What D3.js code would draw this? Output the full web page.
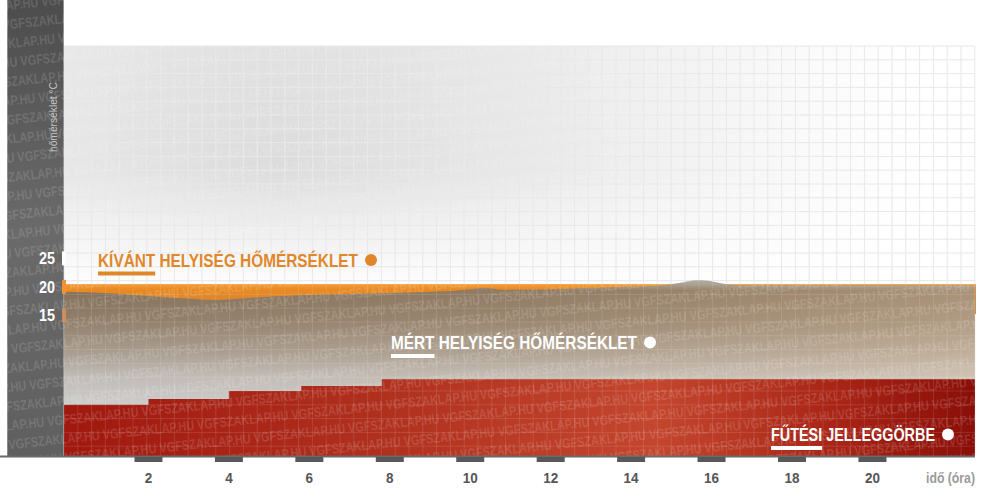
<!DOCTYPE html>
<html>
<head>
<meta charset="utf-8">
<script src="https://cdn.jsdelivr.net/npm/d3@7"></script>
<style>
body { margin: 0; background: #fff; }
svg { display: block; font-family: "Liberation Sans Narrow", "Arial Narrow", "Liberation Sans", sans-serif; }
</style>
</head>
<body>
<svg width="1000" height="500"></svg>
<script>
// values
var xTicks = [2, 4, 6, 8, 10, 12, 14, 16, 18, 20];
var yTicks = [15, 20, 25];
var desiredTemp = 20;
var measHours = [-0.1, 1, 2, 3, 3.6, 4.6, 5.6, 7, 8.5, 9.6, 10.4, 10.8, 12, 13.5, 14.8, 15.2, 15.7, 16.2, 16.6, 18, 20, 22.55];
var measTemps = [19.1, 18.9, 18.4, 17.9, 17.7, 18.1, 18.5, 18.75, 19.0, 19.3, 19.8, 19.5, 19.6, 19.95, 20.3, 20.7, 21.2, 20.7, 20.3, 20.3, 20.3, 20.3];
var stepHours = [-0.1, 2, 4, 5.8, 7.8];
var stepLevels = [-0.7, 0.3, 1.7, 2.6, 3.8];
var endHour = 22.55;
var seriesLabels = ["KÍVÁNT HELYISÉG HŐMÉRSÉKLET", "MÉRT HELYISÉG HŐMÉRSÉKLET", "FŰTÉSI JELLEGGÖRBE"];
var yTitle = "hőmérséklet °C";
var xTitle = "idő (óra)";
var watermark = "VGFSZAKLAP.HU";

var svg = d3.select("svg");

var pLeft = 64, pRight = 975, pTop = 46, pBottom = 456;

var x = d3.scaleLinear().domain([-0.1, endHour]).range([pLeft, pRight]);
var y = d3.scaleLinear().domain([-9.7, 62.3]).range([pBottom, pTop]);

var defs = svg.append("defs");

function linGrad(id, x1, y1, x2, y2, stops) {
  var g = defs.append("linearGradient").attr("id", id)
    .attr("gradientUnits", "userSpaceOnUse")
    .attr("x1", x1).attr("y1", y1).attr("x2", x2).attr("y2", y2);
  stops.forEach(function(s) {
    g.append("stop").attr("offset", s[0]).attr("stop-color", s[1])
      .attr("stop-opacity", s[2] == null ? 1 : s[2]);
  });
}

// squeeze a text to a given width (no narrow font installed)
function fit(sel, w) {
  sel.attr("textLength", w).attr("lengthAdjust", "spacingAndGlyphs");
  return sel;
}

var bg = defs.append("radialGradient").attr("id", "bgGrad")
  .attr("gradientUnits", "userSpaceOnUse")
  .attr("cx", 280).attr("cy", 160).attr("r", 640);
bg.append("stop").attr("offset", 0).attr("stop-color", "#dcdcdc");
bg.append("stop").attr("offset", 0.4).attr("stop-color", "#e9e9e9");
bg.append("stop").attr("offset", 0.85).attr("stop-color", "#fbfbfb");
bg.append("stop").attr("offset", 1).attr("stop-color", "#ffffff");

linGrad("fadeGrad", 0, 170, 0, 280, [[0, "#fff", 0], [1, "#fff", 0.9]]);
linGrad("stripGrad", 0, 0, 0, pBottom, [[0, "#4c4c4c"], [0.5, "#6a6a6a"], [1, "#5f5f5f"]]);
linGrad("orangeGrad", 0, y(desiredTemp) - 3, 0, y(desiredTemp) + 14, [[0, "#f4a040"], [0.3, "#ea8a22"], [1, "#d9852f"]]);
linGrad("measGrad", 0, 276, 0, pBottom, [
  [0, "#a7adb3"], [0.045, "#9c9890"], [0.08, "#85715b"], [0.25, "#917f6b"],
  [0.42, "#a89c8f"], [0.55, "#bfbab5"], [0.7, "#cbcbcb"], [1, "#c0c0c0"]]);
linGrad("measWarm", pLeft, 0, pRight, 0, [[0, "#e6c49c", 0], [0.5, "#e6c49c", 0.12], [1, "#ecd0ae", 0.35]]);
linGrad("redGrad", pLeft, 0, pRight, 0, [[0, "#a0180f"], [0.35, "#b0301e"], [0.65, "#c4462e"], [0.85, "#a82416"], [1, "#8a0e08"]]);

defs.append("clipPath").attr("id", "wmClip")
  .append("rect").attr("x", 0).attr("y", 0).attr("width", pRight).attr("height", pBottom);

// plot background
svg.append("rect").attr("x", pLeft).attr("y", pTop)
  .attr("width", pRight - pLeft).attr("height", pBottom - pTop).attr("fill", "url(#bgGrad)");
svg.append("rect").attr("x", pLeft).attr("y", pTop)
  .attr("width", pRight - pLeft).attr("height", pBottom - pTop).attr("fill", "url(#fadeGrad)");

// grid
var cell = 13.8;
var gx = d3.range(pLeft, pRight + 1, cell), gy = d3.range(pTop, pBottom + 1, cell);
function drawGrid(stroke) {
  var g = svg.append("g").attr("stroke", stroke).attr("stroke-width", 1);
  g.selectAll("line.v").data(gx).enter().append("line").attr("class", "v")
    .attr("x1", function(d) { return d; }).attr("x2", function(d) { return d; })
    .attr("y1", pTop).attr("y2", pBottom);
  g.selectAll("line.h").data(gy).enter().append("line").attr("class", "h")
    .attr("y1", function(d) { return d; }).attr("y2", function(d) { return d; })
    .attr("x1", pLeft).attr("x2", pRight);
}
drawGrid("#e6e6e6");

// desired temperature band (runs down behind the measured area)
svg.append("rect")
  .attr("x", pLeft - 2).attr("y", y(desiredTemp) - 2.8)
  .attr("width", pRight - pLeft + 3).attr("height", 30)
  .attr("fill", "url(#orangeGrad)");

// measured temperature
var meas = measHours.map(function(h, i) { return [h, measTemps[i]]; });
var measArea = d3.area()
  .x(function(d) { return x(d[0]); })
  .y0(pBottom)
  .y1(function(d) { return y(d[1]); })
  .curve(d3.curveMonotoneX);
svg.append("path").datum(meas).attr("d", measArea).attr("fill", "url(#measGrad)");
svg.append("path").datum(meas).attr("d", measArea).attr("fill", "url(#measWarm)");

// heating curve steps
var steps = stepHours.map(function(h, i) { return [h, stepLevels[i]]; });
steps.push([endHour, stepLevels[stepLevels.length - 1]]);
var stepArea = d3.area()
  .x(function(d) { return x(d[0]); })
  .y0(pBottom)
  .y1(function(d) { return y(d[1]); })
  .curve(d3.curveStepAfter);
svg.append("path").datum(steps).attr("d", stepArea).attr("fill", "url(#redGrad)");

drawGrid("rgba(255,255,255,0.12)");

// dark left strip
svg.append("rect").attr("x", 7).attr("y", 0).attr("width", pLeft - 7).attr("height", pBottom)
  .attr("fill", "url(#stripGrad)");
svg.append("line").attr("x1", 7.5).attr("x2", 7.5).attr("y1", 0).attr("y2", pBottom)
  .attr("stroke", "#8a8a8a");
svg.append("line").attr("x1", pLeft - 0.5).attr("x2", pLeft - 0.5).attr("y1", 0).attr("y2", pBottom)
  .attr("stroke", "#929292");

// watermark
var wm = svg.append("g").attr("clip-path", "url(#wmClip)")
  .append("g").attr("transform", "rotate(-6,500,250)");
var reps = 14;
var wmText = d3.range(reps).map(function() { return watermark; }).join(" ");
wm.selectAll("text").data(d3.range(-40, 560, 19)).enter().append("text")
  .attr("x", function(d, i) { return -120 - (i * 41) % 96; })
  .attr("y", function(d) { return d; })
  .attr("font-size", 14).attr("font-weight", "bold")
  .attr("fill", "#fff").attr("fill-opacity", 0.15)
  .attr("textLength", reps * 95 - 5).attr("lengthAdjust", "spacingAndGlyphs")
  .text(wmText);

// y axis
fit(svg.append("text")
  .attr("transform", "translate(57,117) rotate(-90)")
  .attr("text-anchor", "middle").attr("font-size", 11)
  .attr("fill", "#c4c4c4")
  .text(yTitle), 70);

var tabColors = ["#d9925a", "#ef9430", "#ffffff"];
svg.selectAll("rect.tab").data(yTicks).enter().append("rect")
  .attr("x", 62).attr("width", 4)
  .attr("y", function(d) { return y(d) - 7; }).attr("height", 14)
  .attr("fill", function(d, i) { return tabColors[i]; })
  .attr("fill-opacity", function(d, i) { return i === 0 ? 0.8 : 1; });
svg.selectAll("text.ytick").data(yTicks).enter().append("text")
  .attr("x", 55).attr("y", function(d) { return y(d); })
  .attr("dy", "0.36em").attr("text-anchor", "end")
  .attr("font-size", 16).attr("font-weight", "bold").attr("fill", "#fff")
  .attr("textLength", 16).attr("lengthAdjust", "spacingAndGlyphs")
  .text(function(d) { return d; });

// x axis
svg.append("line").attr("x1", 0).attr("x2", pRight).attr("y1", pBottom + 0.5).attr("y2", pBottom + 0.5)
  .attr("stroke", "#6a6a6a").attr("stroke-width", 2);
svg.selectAll("rect.xtick").data(xTicks).enter().append("rect")
  .attr("x", function(d) { return x(d) - 14; }).attr("width", 28)
  .attr("y", pBottom + 1).attr("height", 5).attr("fill", "#585858");
svg.selectAll("text.xtick").data(xTicks).enter().append("text")
  .attr("x", function(d) { return x(d); }).attr("y", 483)
  .attr("text-anchor", "middle")
  .attr("font-size", 15).attr("font-weight", "bold").attr("fill", "#555")
  .attr("textLength", function(d) { return d < 10 ? 7.5 : 15; })
  .attr("lengthAdjust", "spacingAndGlyphs")
  .text(function(d) { return d; });
fit(svg.append("text").attr("x", pRight).attr("y", 483).attr("text-anchor", "end")
  .attr("font-size", 15).attr("font-weight", "bold").attr("fill", "#9a9a9a")
  .text(xTitle), 49);

// series labels with underline and dot
var labelPos = [[98, 266.5, "#e0872c", 260], [391, 349, "#ffffff", 246], [771, 441, "#ffffff", 164]];
seriesLabels.forEach(function(lbl, i) {
  var p = labelPos[i];
  var t = svg.append("text").attr("x", p[0]).attr("y", p[1])
    .attr("font-size", 18.5).attr("font-weight", "bold").attr("fill", p[2])
    .text(lbl);
  var node = t.node();
  var ratio = node.getSubStringLength(0, lbl.indexOf(" ")) / node.getComputedTextLength();
  fit(t, p[3]);
  svg.append("rect").attr("x", p[0]).attr("y", p[1] + 5)
    .attr("width", p[3] * ratio).attr("height", 4).attr("fill", p[2]);
  svg.append("circle").attr("cx", p[0] + p[3] + 13).attr("cy", p[1] - 6.5)
    .attr("r", 6).attr("fill", p[2]);
});
</script>
</body>
</html>
